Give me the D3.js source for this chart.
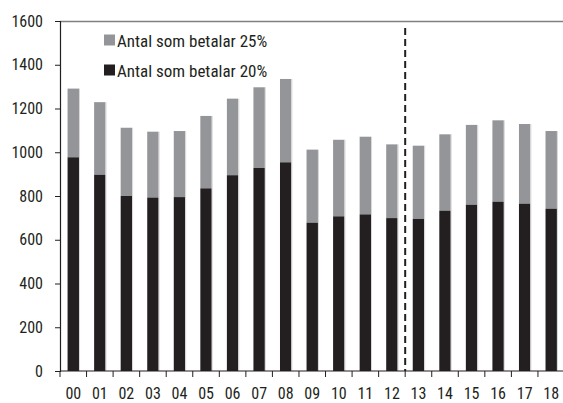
<!DOCTYPE html>
<html>
<head>
<meta charset="utf-8">
<script src="https://cdn.jsdelivr.net/npm/d3@7"></script>
<style>
  body { margin: 0; background: #fff; overflow: hidden; }
  text { font-family: "Liberation Sans Narrow", "Roboto Condensed", "Liberation Sans", sans-serif; fill: #231f20; }
</style>
</head>
<body>
<div id="chart"></div>
<script>
// data
var years = ["00","01","02","03","04","05","06","07","08","09","10","11","12","13","14","15","16","17","18"];
var pay20 = [977, 897, 800, 793, 795, 835, 895, 928, 954, 678, 707, 716, 699, 695, 733, 760, 774, 765, 742];
var total = [1291, 1229, 1112, 1094, 1097, 1166, 1245, 1297, 1335, 1012, 1057, 1071, 1036, 1030, 1082, 1125, 1146, 1129, 1097];
var yTicks = [0, 200, 400, 600, 800, 1000, 1200, 1400, 1600];
var legendLabels = ["Antal som betalar 25%", "Antal som betalar 20%"];
var dividerAfter = "12";

var width = 563, height = 403;
var margin = {top: 21, right: -1.5, bottom: 32, left: 60};
var innerW = width - margin.left - margin.right;
var innerH = height - margin.top - margin.bottom;

var colors = {pay25: "#939598", pay20: "#231f20"};

var svg = d3.select("#chart").append("svg")
  .attr("width", width)
  .attr("height", height)
  .style("display", "block");

var g = svg.append("g")
  .attr("transform", "translate(" + margin.left + "," + margin.top + ")");

var x = d3.scaleBand().domain(years).range([0, innerW]).paddingInner(0.57).paddingOuter(0.285);
var y = d3.scaleLinear().domain([0, 1600]).range([innerH, 0]);

var rows = years.map(function(yr, i){
  return {year: yr, low: pay20[i], high: total[i]};
});

// 25% part (stacked on top)
g.selectAll("rect.p25").data(rows).enter().append("rect")
  .attr("class", "p25")
  .attr("x", function(d){ return x(d.year); })
  .attr("width", x.bandwidth())
  .attr("y", function(d){ return y(d.high); })
  .attr("height", function(d){ return y(d.low) - y(d.high); })
  .style("fill", colors.pay25);

// 20% part
g.selectAll("rect.p20").data(rows).enter().append("rect")
  .attr("class", "p20")
  .attr("x", function(d){ return x(d.year); })
  .attr("width", x.bandwidth())
  .attr("y", function(d){ return y(d.low); })
  .attr("height", function(d){ return y(0) - y(d.low); })
  .style("fill", colors.pay20);

// light edge on the right of each bar
g.selectAll("line.edge").data(rows).enter().append("line")
  .attr("class", "edge")
  .attr("x1", function(d){ return x(d.year) + x.bandwidth() + 0.5; })
  .attr("x2", function(d){ return x(d.year) + x.bandwidth() + 0.5; })
  .attr("y1", function(d){ return y(d.high); })
  .attr("y2", y(0))
  .style("stroke", "#d8d8d8").style("stroke-width", 1);

// top border
g.append("line")
  .attr("x1", 0).attr("x2", width - margin.left)
  .attr("y1", 0.5).attr("y2", 0.5)
  .style("stroke", "#808080").style("stroke-width", 1.5);

// y axis
var yAxis = d3.axisLeft(y).tickValues(yTicks).tickFormat(d3.format("d")).tickSize(5).tickPadding(12);
var ya = g.append("g").attr("class", "y axis").call(yAxis);
ya.select(".domain").style("stroke", "#231f20").style("stroke-width", 1.2);
ya.selectAll(".tick line").style("stroke", "#231f20");
ya.selectAll("text").style("font-size", "16px");

// x axis with ticks between bands
var xa = g.append("g").attr("class", "x axis")
  .attr("transform", "translate(0," + innerH + ")");
xa.append("line")
  .attr("x1", 0).attr("x2", width - margin.left)
  .style("stroke", "#231f20").style("stroke-width", 1.2);
var step = x.step();
var bounds = d3.range(years.length + 1).map(function(i){ return x(years[0]) - x.paddingOuter() * step + i * step; });
xa.selectAll("line.tk").data(bounds).enter().append("line")
  .attr("class", "tk")
  .attr("x1", function(d){ return d; }).attr("x2", function(d){ return d; })
  .attr("y1", 0).attr("y2", 6)
  .style("stroke", "#231f20");
xa.selectAll("text.lbl").data(years).enter().append("text")
  .attr("class", "lbl")
  .attr("x", function(d){ return x(d) + x.bandwidth() / 2; })
  .attr("y", 27.5)
  .attr("text-anchor", "middle")
  .style("font-size", "16px")
  .text(function(d){ return d; });

// dashed divider
var divX = x(dividerAfter) + x.bandwidth() + (step - x.bandwidth()) / 2;
g.append("line")
  .attr("x1", divX).attr("x2", divX)
  .attr("y1", 7).attr("y2", innerH)
  .style("stroke", "#231f20").style("stroke-width", 2)
  .style("stroke-dasharray", "7,4");

// legend
var legend = g.append("g").attr("transform", "translate(44,13.5)");
var legendColors = [colors.pay25, colors.pay20];
legendLabels.forEach(function(lbl, i){
  var row = legend.append("g").attr("transform", "translate(0," + (i * 30) + ")");
  row.append("rect").attr("width", 11).attr("height", 11).style("fill", legendColors[i]);
  row.append("text").attr("x", 13).attr("y", 12).style("font-size", "17px").text(lbl);
});
</script>
</body>
</html>
